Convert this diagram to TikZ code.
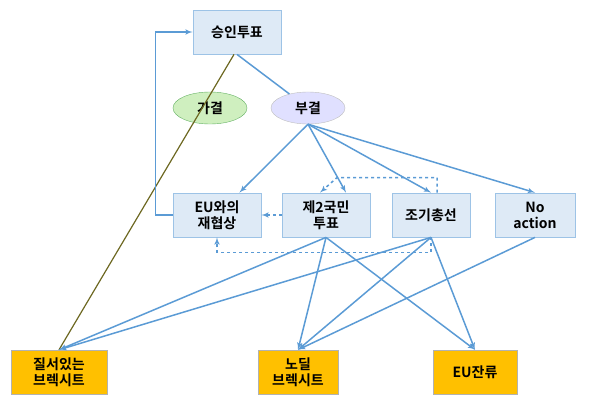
\documentclass[tikz,border=0pt]{standalone}
\usepackage{fontspec}
\setmainfont{Noto Sans CJK KR}[BoldFont={* Bold}]
\usetikzlibrary{arrows,shapes.geometric}
\definecolor{lineblue}{HTML}{5B9BD5}
\definecolor{boxfill}{HTML}{DEEAF6}
\definecolor{boxline}{HTML}{9DC3E6}
\definecolor{gold}{HTML}{FFC000}
\begin{document}
\begin{tikzpicture}[x=1pt,y=-1pt]
\tikzset{choice/.style = {draw=boxline,fill=boxfill,thick,minimum width=88,minimum height=44,align=center,font=\bfseries\fontsize{14}{16}\selectfont,inner sep=1pt}}
\tikzset{result/.style = {draw=gray!60,fill=gold,minimum width=96,minimum height=44,align=center,font=\bfseries\fontsize{14}{16}\selectfont,inner sep=1pt}}
\tikzset{vote/.style = {shape=ellipse,draw=gray!50,minimum width=74,minimum height=32,font=\bfseries\fontsize{14}{16}\selectfont}}
\tikzset{edge/.style = {->,> = latex',draw=lineblue,line width=1.5pt}}
\tikzset{dashedge/.style = {edge,dashed}}
\useasboundingbox (0,0) rectangle (600,409);

\node[choice] (ok) at (237,32) {승인투표};
\node[vote,fill=green!50!olive!25,draw=green!50!black!60] (yes) at (210,108) {가결};
\node[vote,fill=blue!12] (no) at (308,108) {부결};
\node[choice] (reneg) at (217,215) {EU와의\\재협상};
\node[choice] (second) at (326,215) {제2국민\\투표};
\node[choice,minimum width=78] (elect) at (431,215) {조기총선};
\node[choice,minimum width=80] (none) at (535,215) {No\\action};
\node[result] (orderly) at (59,372) {질서있는\\브렉시트};
\node[result,minimum width=80] (nodeal) at (298,372) {노딜\\브렉시트};
\node[result,minimum width=84] (remain) at (475,372) {EU잔류};

\draw[draw=lineblue,line width=1.5pt] (ok.south) -- (no);
\draw[draw=olive!70!black,line width=1.2pt] ([xshift=-3]ok.south) -- (orderly.north);
\draw[edge] (reneg.west) -- ++(-17,0) |- (ok.west);

\draw[edge] (no.south) -- (reneg);
\draw[edge] (no.south) -- ([xshift=20]second.north);
\draw[edge] (no.south) -- (elect.north);
\draw[edge] (no.south) -- (none.north);

\draw[dashedge] (elect.north) ++(6,0) |- ++(-100,-15) -- ([xshift=-6]second.north);
\draw[dashedge] (second.west) -- (reneg.east);
\draw[dashedge] (elect.south) -- ++(0,15) -| (reneg.south);

\draw[edge] (second.south) -- (orderly.north);
\draw[edge] (second.south) -- (nodeal.north);
\draw[edge] (second.south) -- (remain.north);
\draw[edge] (elect.south) -- (orderly.north);
\draw[edge] (elect.south) -- (nodeal.north);
\draw[edge] (elect.south) -- (remain.north);
\draw[edge] (none.south) -- (nodeal.north);
\end{tikzpicture}
\end{document}
